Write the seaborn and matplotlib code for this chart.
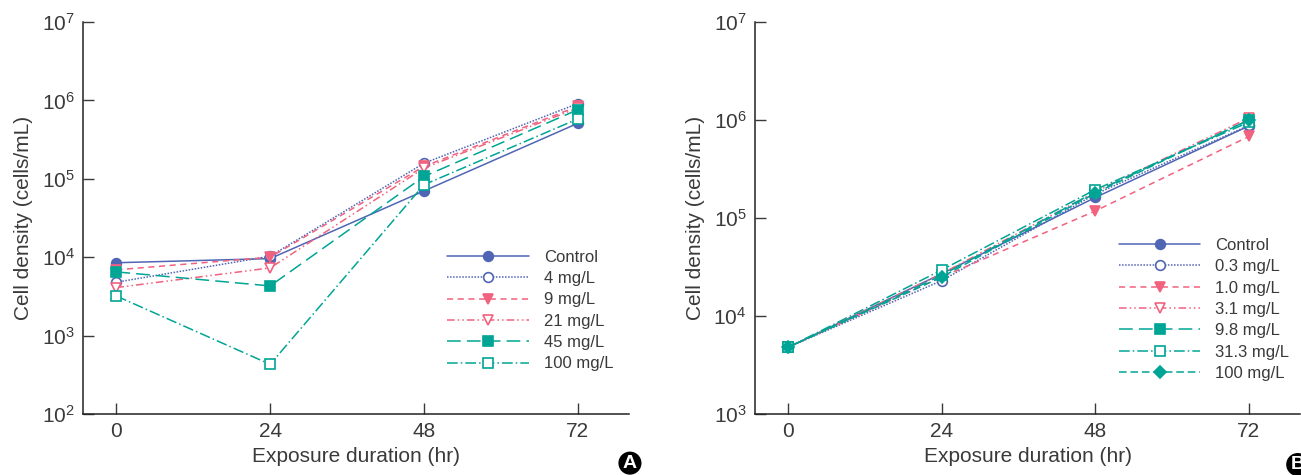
import numpy as np
import pandas as pd
import matplotlib
matplotlib.use("Agg")
import matplotlib.pyplot as plt
import seaborn as sns

# ==================================================
# DATA
# ==================================================

hours = [0, 24, 48, 72]

# panel A
labels_a = ["Control", "4 mg/L", "9 mg/L", "21 mg/L", "45 mg/L", "100 mg/L"]
control_a = [8.5e3, 9.6e3, 7.0e4, 5.1e5]
c4_a = [4.8e3, 1.03e4, 1.58e5, 9.1e5]
c9_a = [6.9e3, 1.0e4, 1.44e5, 8.4e5]
c21_a = [4.1e3, 7.3e3, 1.37e5, 8.0e5]
c45_a = [6.5e3, 4.3e3, 1.07e5, 7.6e5]
c100_a = [3.2e3, 4.3e2, 8.4e4, 5.8e5]
values_a = [control_a, c4_a, c9_a, c21_a, c45_a, c100_a]

# panel B
labels_b = ["Control", "0.3 mg/L", "1.0 mg/L", "3.1 mg/L", "9.8 mg/L", "31.3 mg/L", "100 mg/L"]
control_b = [4.8e3, 2.7e4, 1.62e5, 8.7e5]
c03_b = [4.8e3, 2.3e4, 1.75e5, 8.8e5]
c10_b = [4.8e3, 2.5e4, 1.18e5, 6.8e5]
c31_b = [4.8e3, 2.7e4, 1.85e5, 1.05e6]
c98_b = [4.8e3, 2.6e4, 1.85e5, 1.0e6]
c313_b = [4.8e3, 2.95e4, 1.95e5, 9.5e5]
c100_b = [4.8e3, 2.5e4, 1.8e5, 1.0e6]
values_b = [control_b, c03_b, c10_b, c31_b, c98_b, c313_b, c100_b]

# ==================================================
# STYLE
# ==================================================

BLUE = "#5065b4"
PINK = "#f0627e"
TEAL = "#00a595"
TEXT = "#3a3a3a"

sns.set_style("ticks")
plt.rcParams["font.family"] = ["Liberation Sans Narrow", "Liberation Sans", "DejaVu Sans"]
plt.rcParams["text.color"] = TEXT
plt.rcParams["axes.labelcolor"] = TEXT
plt.rcParams["xtick.color"] = TEXT
plt.rcParams["ytick.color"] = TEXT

# (color, linestyle, marker, filled)
styles_a = [
    (BLUE, "-", "o", True),
    (BLUE, (0, (1, 1)), "o", False),
    (PINK, (0, (4, 3)), "v", True),
    (PINK, (0, (5, 2, 1, 2, 1, 2)), "v", False),
    (TEAL, (0, (9, 4)), "s", True),
    (TEAL, (0, (7, 2, 1, 2)), "s", False),
]
styles_b = [
    (BLUE, "-", "o", True),
    (BLUE, (0, (1, 1)), "o", False),
    (PINK, (0, (4, 3)), "v", True),
    (PINK, (0, (5, 2, 1, 2, 1, 2)), "v", False),
    (TEAL, (0, (9, 4)), "s", True),
    (TEAL, (0, (7, 2, 1, 2)), "s", False),
    (TEAL, (0, (5, 2.5)), "D", True),
]

fig = plt.figure(figsize=(13.01, 4.75), dpi=100)
ax_a = fig.add_axes([0.0638, 0.1284, 0.4197, 0.8253])
ax_b = fig.add_axes([0.5803, 0.1284, 0.4190, 0.8253])


def draw_panel(ax, labels, values, styles, ylim, legend_anchor):
    for lab, vals, (col, ls, mk, filled) in zip(labels, values, styles):
        d = pd.DataFrame({"hr": hours, "density": vals})
        sns.lineplot(
            data=d, x="hr", y="density", ax=ax, label=lab,
            color=col, linestyle=ls, linewidth=1.1,
            marker=mk, markersize=7 if mk != "D" else 6.5,
            markerfacecolor=col if filled else "white",
            markeredgecolor=col, markeredgewidth=1.2,
        )
    ax.set_yscale("log")
    ax.set_ylim(*ylim)
    ax.set_xlim(-5.2, 80)
    ax.set_xticks(hours)
    ax.minorticks_off()
    sns.despine(ax=ax)
    for s in ["left", "bottom"]:
        ax.spines[s].set_linewidth(1.1)
        ax.spines[s].set_color("#222222")
    ax.tick_params(direction="in", length=8, width=1.0, labelsize=15, pad=6)
    ax.set_xlabel("Exposure duration (hr)", fontsize=15, labelpad=4)
    ax.set_ylabel("Cell density (cells/mL)", fontsize=15, labelpad=6)
    ax.legend(
        loc="upper left", bbox_to_anchor=legend_anchor, frameon=False,
        fontsize=12, handlelength=4.9, handletextpad=0.9,
        labelspacing=0.38, borderaxespad=0,
    )


draw_panel(ax_a, labels_a, values_a, styles_a, (1e2, 1e7), (0.655, 0.436))
draw_panel(ax_b, labels_b, values_b, styles_b, (1e3, 1e7), (0.655, 0.466))

# panel letters
fig.text(0.4842, 0.025, "A", ha="center", va="center", color="white",
         fontsize=14, weight="bold",
         bbox=dict(boxstyle="circle,pad=0.12", fc="black", ec="black"))
fig.text(0.9975, 0.022, "B", ha="center", va="center", color="white",
         fontsize=14, weight="bold",
         bbox=dict(boxstyle="circle,pad=0.12", fc="black", ec="black"))

plt.savefig("out.png", dpi=100)
